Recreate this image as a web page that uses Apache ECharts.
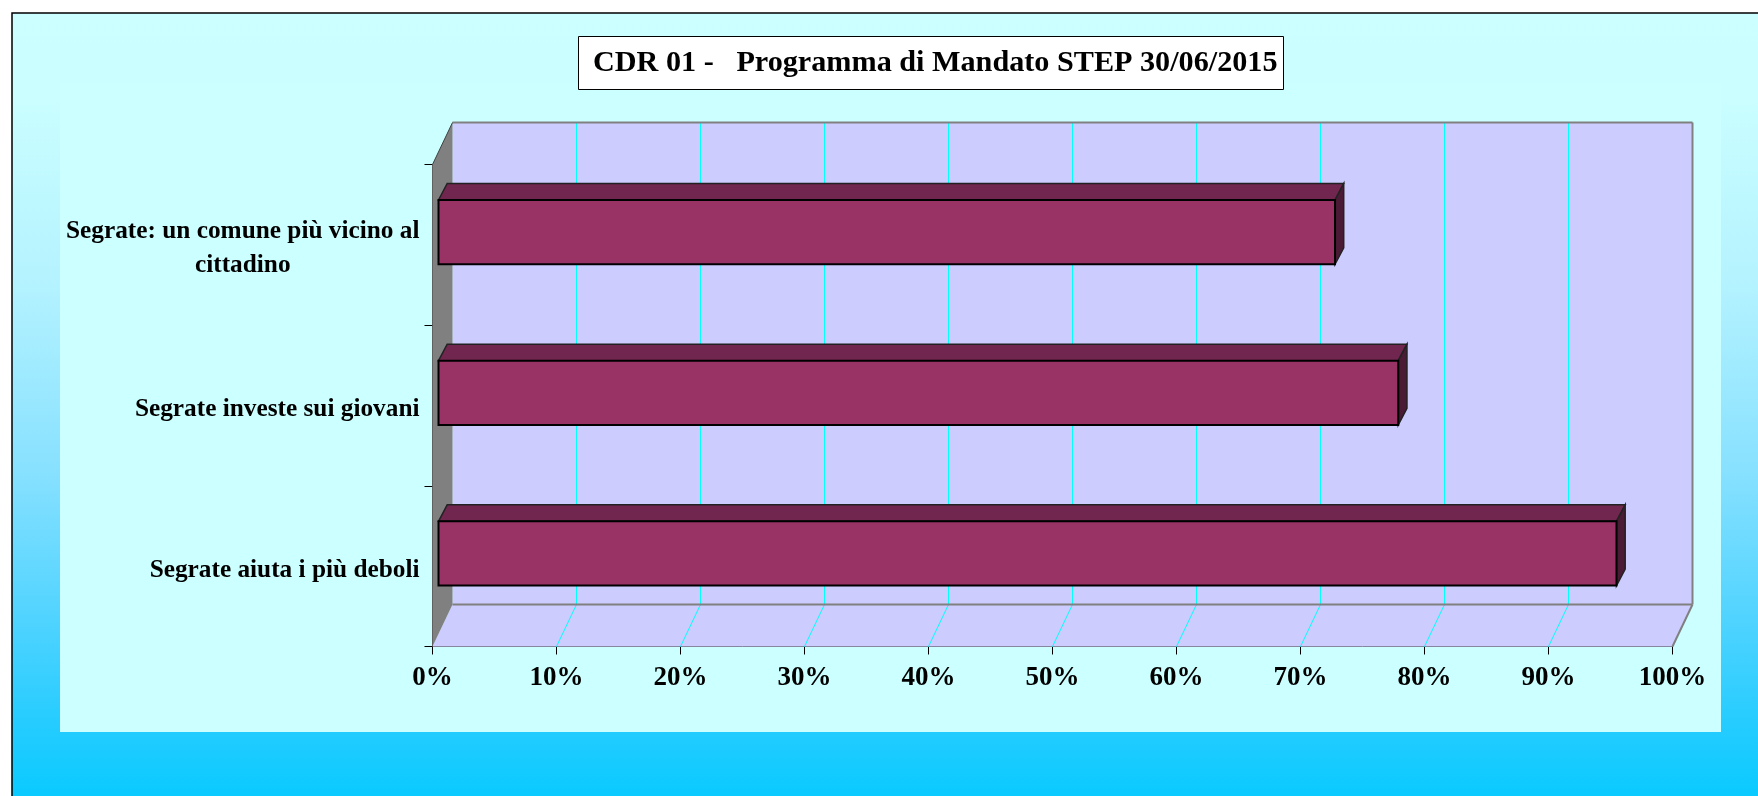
<!DOCTYPE html>
<html>
<head>
<meta charset="utf-8">
<title>CDR 01</title>
<script src="https://cdn.jsdelivr.net/npm/echarts@6/dist/echarts.min.js"></script>
<style>
	html, body { margin: 0; padding: 0; background: #fff; overflow: hidden; }
	#main { width: 1758px; height: 796px; }
</style>
</head>
<body>
<div id="main"></div>
<script>
var titleText = 'CDR 01 -   Programma di Mandato STEP 30/06/2015';
// dal basso verso l'alto, come nell'asse
var categories = ['Segrate aiuta i più deboli', 'Segrate investe sui giovani', 'Segrate: un comune più vicino al\ncittadino'];
var values = [95, 77.4, 72.3];
var gridValues = [10, 20, 30, 40, 50, 60, 70, 80, 90];

var font = '"Liberation Serif", "Times New Roman", serif';
// profondita' finta 3D in pixel
var wallDx = 20, wallDy = 42;
var barDx = 6, barDy = 12.7;
var faceDx = 8.7, faceDy = 16.5;

var myChart = echarts.init(document.getElementById('main'));

function poly(points, fill, stroke, width) {
	return {
		type: 'polygon',
		shape: { points: points },
		style: { fill: fill, stroke: stroke || null, lineWidth: width || 0, lineJoin: 'miter' }
	};
}
function line(x1, y1, x2, y2, color, width) {
	return {
		type: 'line',
		shape: { x1: x1, y1: y1, x2: x2, y2: y2 },
		style: { stroke: color, lineWidth: width || 1 }
	};
}

// pareti e pavimento
function renderWalls(params, api) {
	var cs = params.coordSys;
	var l = cs.x, r = cs.x + cs.width, t = cs.y, b = cs.y + cs.height;
	var items = [
		poly([[l + wallDx, t - wallDy], [r + wallDx, t - wallDy], [r + wallDx, b - wallDy], [l + wallDx, b - wallDy]], '#CCCCFF'),
		poly([[l, b], [r, b], [r + wallDx, b - wallDy], [l + wallDx, b - wallDy]], '#CCCCFF'),
		poly([[l, t], [l + wallDx, t - wallDy], [l + wallDx, b - wallDy], [l, b]], '#808080')
	];
	gridValues.forEach(function(v) {
		var x = api.coord([v, 0])[0];
		items.push(line(x + wallDx, t - wallDy, x + wallDx, b - wallDy, '#00FFFF', 1));
		items.push(line(x, b, x + wallDx, b - wallDy, '#00FFFF', 1));
	});
	items.push(line(l + wallDx, t - wallDy, r + wallDx, t - wallDy, '#808080', 2));
	items.push(line(r + wallDx, t - wallDy, r + wallDx, b - wallDy, '#808080', 2));
	items.push(line(l + wallDx, b - wallDy, r + wallDx, b - wallDy, '#808080', 2));
	items.push(line(r, b, r + wallDx, b - wallDy, '#808080', 2));
	items.push(line(l, t, l + wallDx, t - wallDy, '#404040', 1));
	return { type: 'group', children: items };
}

// barra a parallelepipedo
function renderBar(params, api) {
	var end = api.coord([api.value(0), api.value(1)]);
	var start = api.coord([0, api.value(1)]);
	var h = api.size([0, 1])[1] * 0.4;
	var x0 = start[0] + barDx, x1 = end[0] + barDx;
	var y0 = end[1] - barDy - h / 2, y1 = y0 + h;
	return {
		type: 'group',
		children: [
			poly([[x0, y0], [x0 + faceDx, y0 - faceDy], [x1 + faceDx, y0 - faceDy], [x1, y0]], '#70264E', '#222', 1.5),
			poly([[x1, y0], [x1 + faceDx, y0 - faceDy], [x1 + faceDx, y1 - faceDy], [x1, y1]], '#4B1A35', '#222', 1.5),
			poly([[x0, y0], [x1, y0], [x1, y1], [x0, y1]], '#993366', '#000', 2)
		]
	};
}

var option = {
	animation: false,
	title: {
		text: titleText,
		left: 578,
		top: 36,
		padding: [12, 6, 12, 15],
		backgroundColor: '#fff',
		borderColor: '#000',
		borderWidth: 1,
		textStyle: { fontFamily: font, fontWeight: 'bold', fontSize: 30.2, color: '#000' }
	},
	graphic: [
		{
			type: 'rect', z: -20, silent: true,
			shape: { x: 12, y: 13, width: 1760, height: 790 },
			style: {
				fill: new echarts.graphic.LinearGradient(0, 0, 0, 1, [
					{ offset: 0, color: '#CCFFFF' },
					{ offset: 0.11, color: '#CAFEFF' },
					{ offset: 0.35, color: '#B3F2FF' },
					{ offset: 0.59, color: '#85E0FF' },
					{ offset: 0.77, color: '#4FD3FF' },
					{ offset: 0.9, color: '#25CCFF' },
					{ offset: 0.99, color: '#0ACAFF' }
				]),
				stroke: '#000', lineWidth: 1.5
			}
		},
		{
			type: 'rect', z: -19, silent: true,
			shape: { x: 60, y: 83, width: 1661, height: 649 },
			style: { fill: '#CCFFFF' }
		}
	],
	grid: { left: 432.5, right: 1758 - 1672.5, top: 164.5, bottom: 796 - 646.5, containLabel: false },
	xAxis: {
		type: 'value',
		min: 0,
		max: 100,
		interval: 10,
		splitLine: { show: false },
		axisLine: { show: true, lineStyle: { color: '#404040', width: 1 } },
		axisTick: { show: true, length: 8, lineStyle: { color: '#000', width: 1 } },
		axisLabel: {
			formatter: '{value}%', margin: 18, hideOverlap: false,
			fontFamily: font, fontWeight: 'bold', fontSize: 27, color: '#000'
		}
	},
	yAxis: {
		type: 'category',
		data: categories,
		axisLine: { show: true, lineStyle: { color: '#404040', width: 1 } },
		axisTick: { show: true, length: 8, lineStyle: { color: '#000', width: 1 } },
		axisLabel: {
			margin: 13,
			interval: 0,
			padding: [8, 0, 0, 0],
			formatter: function(v) {
				return v.split('\n').map(function(s) { return '{c|' + s + '}'; }).join('\n');
			},
			rich: {
				c: { align: 'center', lineHeight: 34, fontFamily: font, fontWeight: 'bold', fontSize: 25.3, color: '#000' }
			}
		}
	},
	series: [
		{ type: 'custom', z: 1, silent: true, clip: false, renderItem: renderWalls, data: [[0, 0]], encode: { x: 0, y: 1 } },
		{
			type: 'custom', z: 2, silent: true, clip: false, renderItem: renderBar, encode: { x: 0, y: 1 },
			data: values.map(function(v, i) { return [v, i]; })
		}
	]
};
myChart.setOption(option);
</script>
</body>
</html>
